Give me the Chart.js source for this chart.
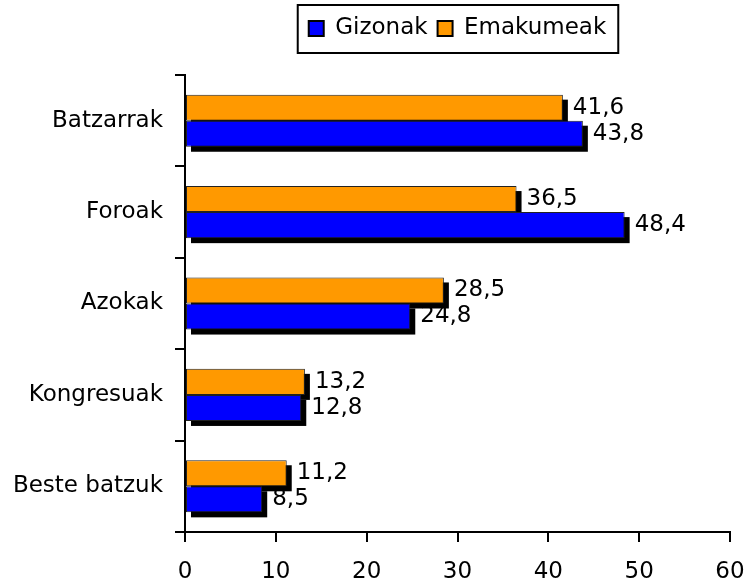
<!DOCTYPE html>
<html>
<head>
<meta charset="utf-8">
<script src="https://cdn.jsdelivr.net/npm/chart.js@4/dist/chart.umd.min.js"></script>
<style>
  html, body { margin: 0; padding: 0; background: #fff; }
  #wrap { width: 752px; height: 587px; }
</style>
</head>
<body>
<div id="wrap"><canvas id="grafikoa"></canvas></div>
<script>
// datuak
const kategoriak = ["Batzarrak", "Foroak", "Azokak", "Kongresuak", "Beste batzuk"];
const gizonak = [43.8, 48.4, 24.8, 12.8, 8.5];
const emakumeak = [41.6, 36.5, 28.5, 13.2, 11.2];
const xTicks = [0, 10, 20, 30, 40, 50, 60];

const letra = "'DejaVu Sans', sans-serif";
const tamaina = 23;

// itzala barren atzean (beltza, 5px eskuinera eta behera) + balioak
const itzala = {
  id: "itzala",
  beforeDatasetsDraw(chart) {
    const ctx = chart.ctx;
    ctx.save();
    ctx.fillStyle = "#000";
    chart.data.datasets.forEach((ds, i) => {
      chart.getDatasetMeta(i).data.forEach((el) => {
        const p = el.getProps(["x", "y", "base", "height"], true);
        ctx.fillRect(Math.min(p.x, p.base) + 5, p.y - p.height / 2 + 5, Math.abs(p.x - p.base), p.height);
      });
    });
    ctx.restore();
  },
  afterDatasetsDraw(chart) {
    const ctx = chart.ctx;
    ctx.save();
    ctx.fillStyle = "#000";
    ctx.font = tamaina + "px " + letra;
    ctx.textBaseline = "middle";
    ctx.textAlign = "left";
    chart.data.datasets.forEach((ds, i) => {
      chart.getDatasetMeta(i).data.forEach((el, j) => {
        const p = el.getProps(["x", "y"], true);
        ctx.fillText(String(ds.data[j]).replace(".", ","), p.x + 10, p.y);
      });
    });
    ctx.restore();
  },
};

// legendaren inguruko laukia, eta tarte gehiago legendaren azpian
const legendaLaukia = {
  id: "legendaLaukia",
  afterInit(chart) {
    const fit = chart.legend.fit;
    chart.legend.fit = function () {
      fit.call(this);
      this.height += 25;
    };
  },
  afterDraw(chart) {
    const hb = chart.legend.legendHitBoxes;
    if (!hb || !hb.length) return;
    const left = hb[0].left - 11;
    const last = hb[hb.length - 1];
    const right = last.left + last.width + 12;
    const top = Math.min(...hb.map((h) => h.top)) - 12;
    const bottom = Math.max(...hb.map((h) => h.top + h.height)) + 13;
    const ctx = chart.ctx;
    ctx.save();
    ctx.strokeStyle = "#000";
    ctx.lineWidth = 2;
    ctx.strokeRect(left, top, right - left, bottom - top);
    ctx.restore();
  },
};

const config = {
  type: "bar",
  data: {
    labels: kategoriak,
    datasets: [
      {
        label: "Emakumeak",
        data: emakumeak,
        backgroundColor: "#FF9900",
        borderColor: "#222",
        borderWidth: 1,
        borderSkipped: false,
      },
      {
        label: "Gizonak",
        data: gizonak,
        backgroundColor: "#0000FF",
        borderColor: "#222",
        borderWidth: 1,
        borderSkipped: false,
      },
    ],
  },
  options: {
    indexAxis: "y",
    responsive: true,
    maintainAspectRatio: false,
    animation: false,
    categoryPercentage: 0.57,
    barPercentage: 1,
    layout: { padding: { left: 0, right: 22, top: 7, bottom: 0 } },
    scales: {
      x: {
        min: 0,
        max: 60,
        afterBuildTicks: (s) => { s.ticks = xTicks.map((v) => ({ value: v })); },
        afterFit: (s) => { s.height = 55; s.paddingLeft = 0; s.paddingRight = 0; },
        ticks: { color: "#000", font: { family: letra, size: tamaina }, padding: 16 },
        grid: { drawOnChartArea: false, drawTicks: true, tickLength: 10, color: "#000", lineWidth: 2 },
        border: { display: true, color: "#000", width: 2 },
      },
      y: {
        afterFit: (s) => { s.width = 185; },
        ticks: { color: "#000", font: { family: letra, size: tamaina }, padding: 12 },
        grid: { drawOnChartArea: false, drawTicks: true, tickLength: 10, color: "#000", lineWidth: 2, offset: true },
        border: { display: true, color: "#000", width: 2 },
      },
    },
    plugins: {
      tooltip: { enabled: false },
      legend: {
        position: "top",
        fullSize: false,
        reverse: true,
        labels: {
          color: "#000",
          font: { family: letra, size: tamaina },
          boxWidth: 15,
          boxHeight: 15,
          padding: 10,
          generateLabels: (chart) =>
            Chart.defaults.plugins.legend.labels.generateLabels(chart).map((l) => {
              l.lineWidth = 2;
              l.strokeStyle = "#000";
              return l;
            }),
        },
      },
    },
  },
  plugins: [itzala, legendaLaukia],
};

new Chart(document.getElementById("grafikoa"), config);
</script>
</body>
</html>
